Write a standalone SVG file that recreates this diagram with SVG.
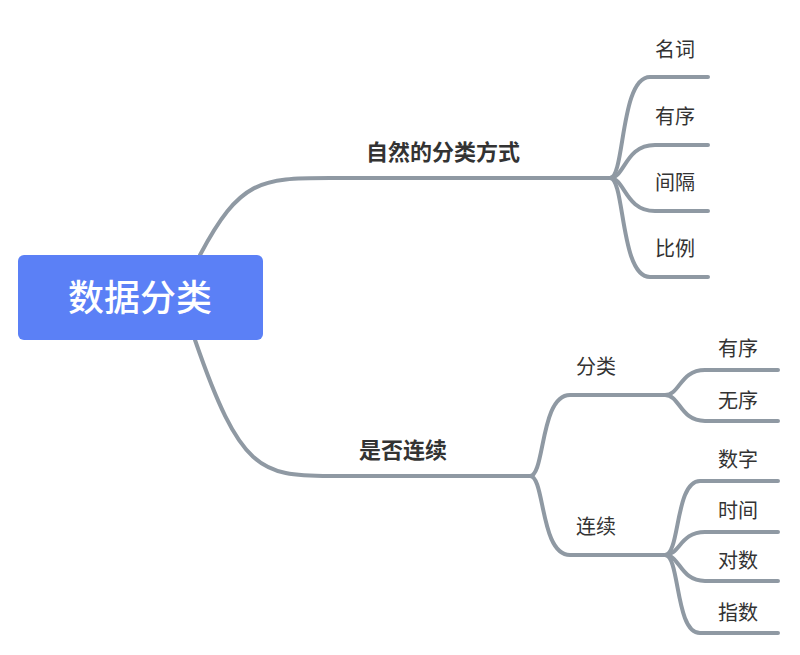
<svg xmlns="http://www.w3.org/2000/svg" width="800" height="655" viewBox="0 0 800 655">
<style>
.c{fill:none;stroke:#8f99a3;stroke-width:4;stroke-linecap:round}
.t{font-family:"Noto Sans CJK SC",sans-serif;fill:#333;font-size:20px;text-anchor:middle}
.b{font-weight:bold;font-size:22px}
</style>
<rect width="800" height="655" fill="#fff"/>
<g id="connectors">
<path class="c" d="M200,255 C240,180 260,178 330,178 L610,178"/>
<path class="c" d="M195,340 C240,470 260,476 330,476 L530,476"/>
<path class="c" d="M610,178 C625,178 620,77 650,77 L708,77"/>
<path class="c" d="M610,178 C625,178 625,145 655,145 L708,145"/>
<path class="c" d="M610,178 C625,178 625,211 655,211 L708,211"/>
<path class="c" d="M610,178 C625,178 620,277 650,277 L708,277"/>
<path class="c" d="M530,476 C545,476 540,395 570,395 L665,395"/>
<path class="c" d="M530,476 C545,476 540,555 570,555 L665,555"/>
<path class="c" d="M665,395 C680,395 680,370 705,370 L778,370"/>
<path class="c" d="M665,395 C680,395 680,421 705,421 L778,421"/>
<path class="c" d="M665,555 C680,555 675,481 700,481 L778,481"/>
<path class="c" d="M665,555 C680,555 680,532 705,532 L778,532"/>
<path class="c" d="M665,555 C680,555 680,581 705,581 L778,581"/>
<path class="c" d="M665,555 C680,555 675,633 700,633 L778,633"/>
</g>
<g id="root"><rect x="18" y="255" width="245" height="85" rx="6" fill="#5b80f6"/><text class="t" x="140" y="311" style="fill:#fff;font-size:36px;font-weight:500">数据分类</text></g>
<g id="n1"><text class="t b" x="443" y="160">自然的分类方式</text></g>
<g id="n2"><text class="t b" x="403" y="458">是否连续</text></g>
<g id="n11"><text class="t" x="675" y="57">名词</text></g>
<g id="n12"><text class="t" x="675" y="124">有序</text></g>
<g id="n13"><text class="t" x="675" y="190">间隔</text></g>
<g id="n14"><text class="t" x="675" y="256">比例</text></g>
<g id="n21"><text class="t" x="596" y="374">分类</text></g>
<g id="n22"><text class="t" x="596" y="534">连续</text></g>
<g id="n211"><text class="t" x="738" y="356">有序</text></g>
<g id="n212"><text class="t" x="738" y="408">无序</text></g>
<g id="n221"><text class="t" x="738" y="467">数字</text></g>
<g id="n222"><text class="t" x="738" y="518">时间</text></g>
<g id="n223"><text class="t" x="738" y="568">对数</text></g>
<g id="n224"><text class="t" x="738" y="620">指数</text></g>
</svg>
